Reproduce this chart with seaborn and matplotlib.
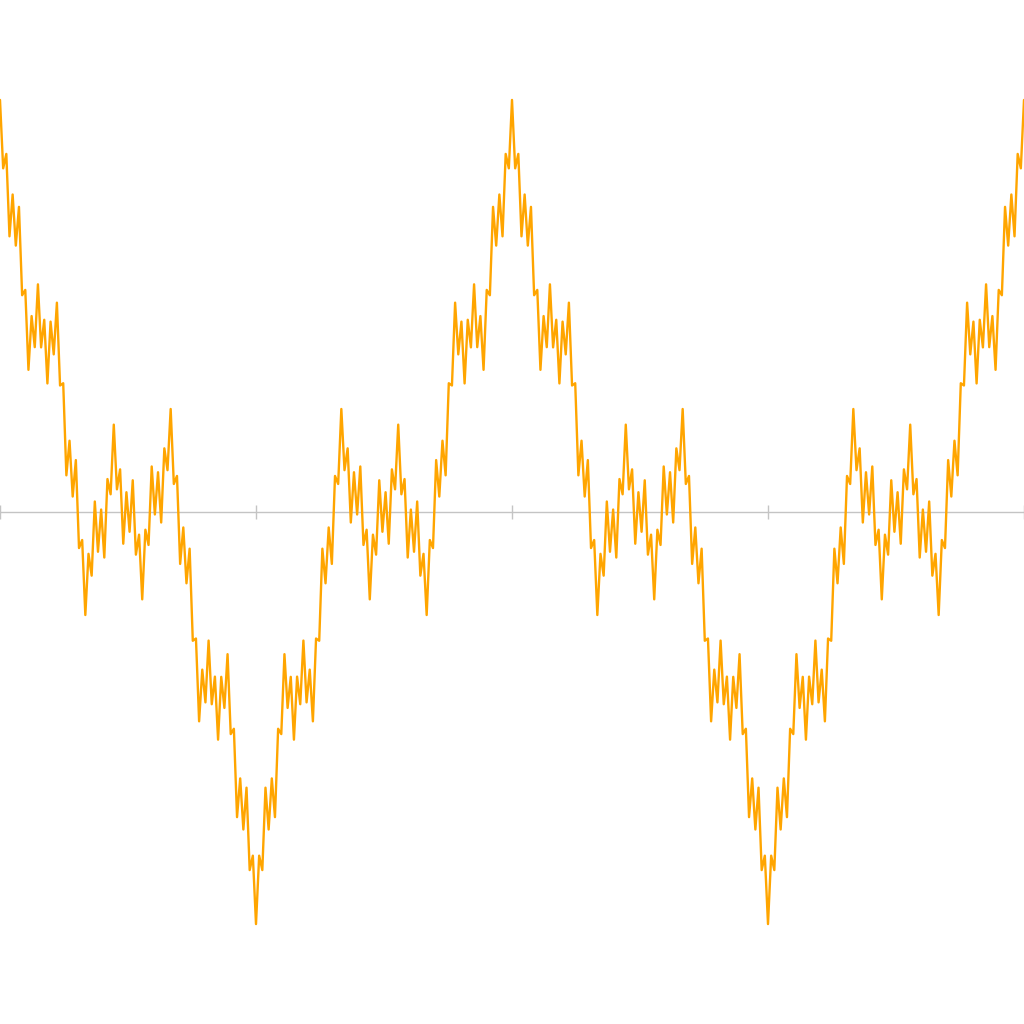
import numpy as np
import pandas as pd
import matplotlib
matplotlib.use("Agg")
import matplotlib.pyplot as plt
import seaborn as sns

# Values, x step = 1/81 of a unit
# descending half-wave, x from 0 to 1
fall = [2.0, 1.668, 1.738, 1.338, 1.541, 1.293, 1.481, 1.052, 1.078, 0.690,
        0.951, 0.800, 1.105, 0.799, 0.933, 0.624, 0.924, 0.765, 1.016, 0.614,
        0.625, 0.178, 0.346, 0.075, 0.252, -0.175, -0.136, -0.500, -0.203, -0.309,
        0.051, -0.193, 0.012, -0.221, 0.160, 0.086, 0.424, 0.110, 0.207, -0.154,
        0.096, -0.096, 0.154, -0.207, -0.110, -0.424, -0.086, -0.160, 0.221, -0.012,
        0.193, -0.051, 0.309, 0.203, 0.500, 0.136, 0.175, -0.252, -0.075, -0.346,
        -0.178, -0.625, -0.614, -1.016, -0.765, -0.924, -0.624, -0.933, -0.799, -1.105,
        -0.800, -0.951, -0.690, -1.078, -1.052, -1.481, -1.293, -1.541, -1.338, -1.738,
        -1.668, -2.0]
# ascending half-wave, x from 1 (exclusive) to 2
rise = [-1.668, -1.738, -1.338, -1.541, -1.293, -1.481, -1.052, -1.078, -0.690, -0.951,
        -0.800, -1.105, -0.799, -0.933, -0.624, -0.924, -0.765, -1.016, -0.614, -0.625,
        -0.178, -0.346, -0.075, -0.252, 0.175, 0.136, 0.500, 0.203, 0.309, -0.051,
        0.193, -0.012, 0.221, -0.160, -0.086, -0.424, -0.110, -0.207, 0.154, -0.096,
        0.096, -0.154, 0.207, 0.110, 0.424, 0.086, 0.160, -0.221, 0.012, -0.193,
        0.051, -0.309, -0.203, -0.500, -0.136, -0.175, 0.252, 0.075, 0.346, 0.178,
        0.625, 0.614, 1.016, 0.765, 0.924, 0.624, 0.933, 0.799, 1.105, 0.800,
        0.951, 0.690, 1.078, 1.052, 1.481, 1.293, 1.541, 1.338, 1.738, 1.668,
        2.0]
x_ticks = [0, 1, 2, 3, 4]

y = fall + rise + fall[1:] + rise
x = np.arange(len(y)) / 81.0
df = pd.DataFrame({"x": x, "y": y})

sns.set_style("white")
fig = plt.figure(figsize=(10.24, 10.24), dpi=100)
ax = fig.add_axes([0, 0, 1, 1])
sns.lineplot(data=df, x="x", y="y", color="#FFA500", linewidth=1.7,
             estimator=None, sort=False, ax=ax, zorder=3)

ax.set_xlim(0, 4)
ax.set_ylim(-2.485, 2.485)
for s in ["top", "right", "left"]:
    ax.spines[s].set_visible(False)
ax.spines["bottom"].set_position(("data", 0))
ax.spines["bottom"].set_color("#c4c4c4")
ax.spines["bottom"].set_linewidth(1)
ax.spines["bottom"].set_zorder(1)
ax.set_xticks(x_ticks)
ax.set_xticklabels([])
ax.set_yticks([])
ax.tick_params(axis="x", direction="inout", length=10, width=1, color="#c4c4c4",
               labelbottom=False, bottom=True)
ax.set_xlabel("")
ax.set_ylabel("")
fig.savefig("out.png", dpi=100, facecolor="white")
